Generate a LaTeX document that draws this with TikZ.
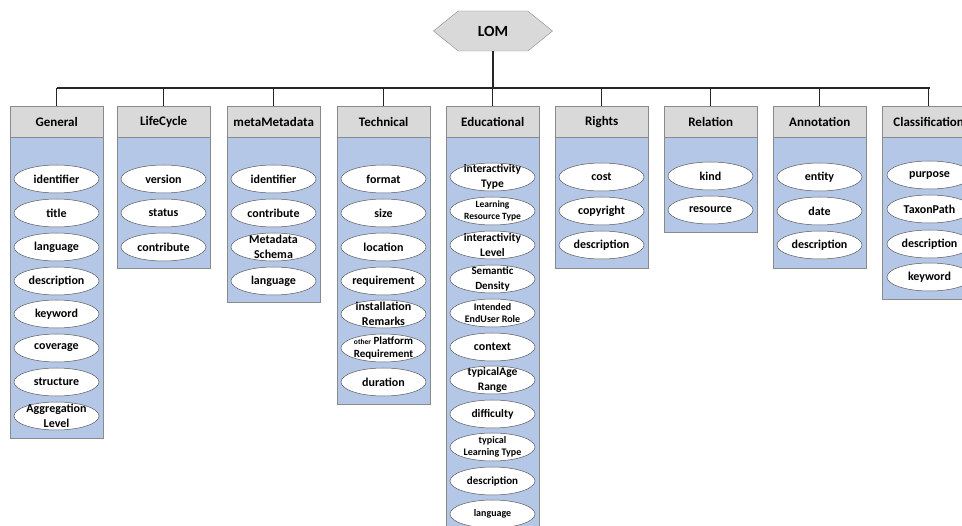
\documentclass[tikz,border=0pt]{standalone}
\usepackage{fontspec}
\setmainfont{Carlito}
\usetikzlibrary{shapes.geometric,shapes.symbols}

\definecolor{headfill}{HTML}{D9D9D9}
\definecolor{bodyfill}{HTML}{B4C7E7}
\definecolor{frameline}{HTML}{8A8A8A}
\definecolor{itemline}{HTML}{595959}
\definecolor{wireline}{HTML}{262626}

\tikzset{
  rootnode/.style={signal, signal to=west and east, signal pointer angle=78,
    draw=frameline, fill=headfill, minimum width=119pt, minimum height=40pt,
    inner sep=0pt, font=\fontsize{15.5}{18}\selectfont\bfseries},
  head/.style={draw=frameline, fill=headfill, anchor=north west, inner sep=0pt,
    minimum width=93pt, minimum height=31pt, font=\fontsize{13}{15}\selectfont\bfseries},
  bodybox/.style={draw=frameline, fill=bodyfill, anchor=north west, inner sep=0pt,
    minimum width=93pt},
  item/.style={ellipse, draw=itemline, line width=0.5pt, fill=white, inner sep=0pt,
    minimum width=85pt, minimum height=28pt},
  itemtext/.style={inner sep=0pt, align=center, font=\fontsize{12}{14.5}\selectfont\bfseries},
  wire/.style={draw=wireline, line width=1.4pt},
}

% column frame: #1 name, #2 title, #3 left x, #4 bottom y
\newcommand\lomcol[4]{%
  \node[bodybox, minimum height={#4-137}] (#1-body) at (#3,137) {};
  \node[head] (#1) at (#3,106) {#2};
  \draw[wire] (#1.north) -- (#1.north |- busL);
}
% plain entries of a column: #1 name, #2 centre x, #3 list y/text
\newcommand\lomitems[3]{%
  \foreach \itemy/\itemtxt [count=\itemno] in {#3}
    \node[item, label={[itemtext]center:\itemtxt}] (#1-\itemno) at (#2,\itemy) {};
}
% entry with its own font size: #1 node name, #2 x, #3 y, #4 size, #5 skip, #6 text
\newcommand\lomentry[6]{%
  \node[item, label={[itemtext, font=\fontsize{#4}{#5}\selectfont\bfseries]center:{#6}}] (#1) at (#2,#3) {};
}

\begin{document}
\begin{tikzpicture}[x=1pt,y=-1pt]
\useasboundingbox (0,0) rectangle (962,526);
\clip (0,0) rectangle (962,526);

\node[rootnode] (lom) at (493,31) {LOM};
\coordinate (busL) at (56.5,88);
\coordinate (busR) at (929.5,88);
\draw[wire] (lom.south) -- (lom.south |- busL);
\draw[wire] (busL) -- (busR);

\lomcol{gen}{General}{10}{438}
\lomcol{life}{LifeCycle}{117}{268}
\lomcol{meta}{metaMetadata}{227}{302}
\lomcol{tech}{Technical}{337}{404}
\lomcol{edu}{Educational}{446}{540}
\lomcol{rights}{Rights}{555}{268}
\lomcol{rel}{Relation}{664}{232}
\lomcol{ann}{Annotation}{773}{268}
\lomcol{cls}{Classification}{882}{299}

\lomitems{gen}{56.5}{179/identifier, 213/title, 247/language, 281/description,
  314/keyword, 348/coverage, 382/structure, 416/{Aggregation\\Level}}
\lomitems{life}{163.5}{179/version, 213/status, 247/contribute}
\lomitems{meta}{273.5}{179/identifier, 213/contribute, 247/{Metadata\\Schema}, 281/language}
\lomitems{tech}{383.5}{179/format, 213/size, 247/location, 281/requirement,
  314/{installation\\Remarks}}
\lomentry{tech-6}{383.5}{348}{11}{13.5}{{\fontsize{7.5}{9}\selectfont other} Platform\\Requirement}
\lomitems{tech7}{383.5}{382/duration}

\lomentry{edu-1}{492.5}{177}{11.5}{14.5}{interactivity\\Type}
\lomentry{edu-2}{492.5}{211}{9.5}{11.5}{Learning\\Resource Type}
\lomentry{edu-3}{492.5}{245}{11.5}{14.5}{interactivity\\Level}
\lomentry{edu-4}{492.5}{279}{11}{14.5}{Semantic\\Density}
\lomentry{edu-5}{492.5}{313}{10}{12.5}{Intended\\EndUser Role}
\lomentry{edu-6}{492.5}{347}{12}{14}{context}
\lomentry{edu-7}{492.5}{380}{11.5}{14.5}{typicalAge\\Range}
\lomentry{edu-8}{492.5}{414}{11.5}{14}{difficulty}
\lomentry{edu-9}{492.5}{447}{10}{12.5}{typical\\Learning Type}
\lomentry{edu-10}{492.5}{481}{11}{14}{description}
\lomentry{edu-11}{492.5}{514}{10}{12}{language}

\lomitems{rights}{601.5}{177/cost, 211/copyright, 245/description}
\lomitems{rel}{710.5}{176/kind, 210/resource}
\lomitems{ann}{819.5}{177/entity, 211/date, 245/description}
\lomitems{cls}{929.5}{175/purpose, 209/TaxonPath, 244/description, 277/keyword}
\end{tikzpicture}
\end{document}
